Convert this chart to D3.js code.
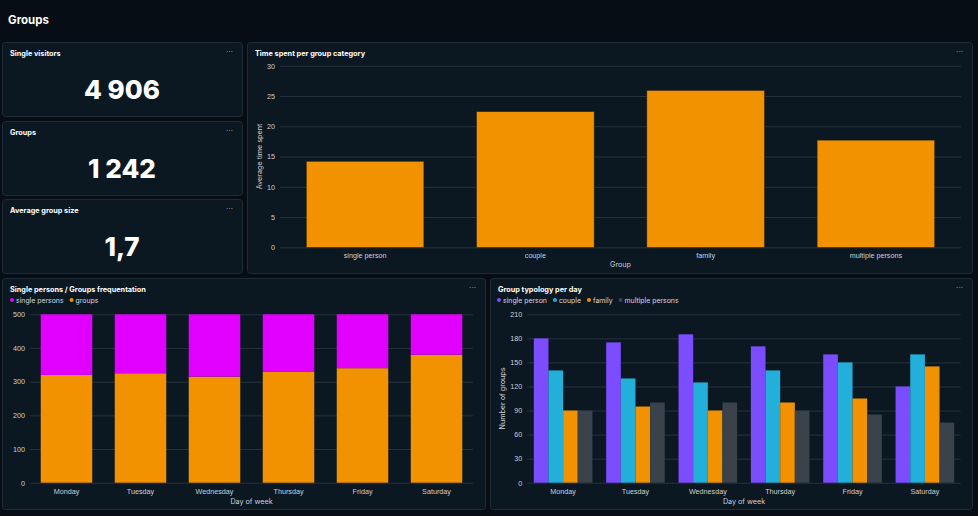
<!DOCTYPE html>
<html>
<head>
<meta charset="utf-8">
<script src="https://cdn.jsdelivr.net/npm/d3@7"></script>
<style>
  html, body { margin: 0; padding: 0; background: #070d15; }
  svg { display: block; font-family: Inter, "Open Sans", sans-serif; }
  .tick text { fill: #cdd2d7; font-size: 7.2px; }
  .axis-label { fill: #cdd2d7; font-size: 7.2px; }
  .panel-title { fill: #ffffff; font-size: 7.3px; font-weight: 700; }
  .dots { fill: #8a949e; font-size: 8px; }
  .legend text { fill: #d6dbe0; font-size: 6.9px; }
</style>
</head>
<body>
<svg id="dash" width="978" height="516"></svg>
<script>
// KPI tiles
const kpiTitles = ['Single visitors', 'Groups', 'Average group size']
const kpiValues = ['4 906', '1 242', '1,7']

// Time spent per group category
const groupCats = ['single person', 'couple', 'family', 'multiple persons']
const timeSpent = [14.2, 22.4, 25.9, 17.7]
const timeTicks = [0, 5, 10, 15, 20, 25, 30]

// Frequentation per day (stacked)
const days = ['Monday', 'Tuesday', 'Wednesday', 'Thursday', 'Friday', 'Saturday']
const freqSeries = ['single persons', 'groups']
const singleVisits = [180, 175, 185, 170, 160, 120]
const groupVisits = [320, 325, 315, 330, 340, 380]
const freqTicks = [0, 100, 200, 300, 400, 500]

// Group typology per day
const typoSeries = ['single person', 'couple', 'family', 'multiple persons']
const typoSingle = [180, 175, 185, 170, 160, 120]
const typoCouple = [140, 130, 125, 140, 150, 160]
const typoFamily = [90, 95, 90, 100, 105, 145]
const typoMultiple = [90, 100, 100, 90, 85, 75]
const typoTicks = [0, 30, 60, 90, 120, 150, 180, 210]

const ORANGE = '#f39200'
const MAGENTA = '#e100ff'
const PURPLE = '#7c4dff'
const CYAN = '#22b0da'
const GREY = '#3a424c'
const GRID = '#26333e'

const svg = d3.select('#dash')

svg.append('text')
    .attr('x', 8).attr('y', 24)
    .attr('fill', '#fff')
    .attr('font-size', 11.5)
    .attr('font-weight', 700)
    .text('Groups')

function panel(x, y, w, h, title) {
    const g = svg.append('g').attr('transform', `translate(${x}, ${y})`)
    g.append('rect')
        .attr('x', 0.5).attr('y', 0.5)
        .attr('width', w - 1).attr('height', h - 1)
        .attr('rx', 3)
        .attr('fill', '#0b1721')
        .attr('stroke', '#1f2b35')
    g.append('text')
        .attr('class', 'panel-title')
        .attr('x', 8).attr('y', 13.5)
        .text(title)
    g.append('text')
        .attr('class', 'dots')
        .attr('x', w - 10).attr('y', 12)
        .attr('text-anchor', 'end')
        .text('···')
    return g
}

// KPI tiles
const kpiY = [42, 121, 199]
kpiTitles.forEach((t, i) => {
    const g = panel(2, kpiY[i], 241, 75, t)
    g.append('text')
        .attr('x', 120).attr('y', 57)
        .attr('text-anchor', 'middle')
        .attr('fill', '#fff')
        .attr('font-size', 26)
        .attr('font-weight', 800)
        .text(kpiValues[i])
})

function yGrid(g, scale, ticks, x0, x1) {
    const axis = d3.axisLeft(scale).tickValues(ticks).tickSize(-(x1 - x0)).tickPadding(5)
    const ag = g.append('g')
        .attr('transform', `translate(${x0}, 0)`)
        .call(axis)
    ag.select('.domain').remove()
    ag.selectAll('.tick line').attr('stroke', GRID)
    return ag
}

function xAxis(g, scale, y) {
    const ag = g.append('g')
        .attr('transform', `translate(0, ${y})`)
        .call(d3.axisBottom(scale).tickSize(0).tickPadding(6))
    ag.select('.domain').remove()
    return ag
}

// legend items laid out one after the other, spacing taken from the text width
function legend(g, items, colors, x, y) {
    const lg = g.append('g').attr('class', 'legend')
    let cx = x
    items.forEach((d, i) => {
        lg.append('circle').attr('cx', cx).attr('cy', y).attr('r', 2).attr('fill', colors[i])
        const t = lg.append('text').attr('x', cx + 4).attr('y', y + 2.5).text(d)
        cx += 4 + t.node().getComputedTextLength() + 8
    })
}

// Time spent per group category
{
    const px = 247, py = 42
    const g = panel(px, py, 726, 232, 'Time spent per group category')
    const x0 = 280 - px, x1 = 961 - px
    const y = d3.scaleLinear().domain([0, 30]).range([205.3, 23.7])
    const x = d3.scaleBand().domain(groupCats).range([x0, x1]).paddingInner(0.31).paddingOuter(0.155)
    yGrid(g, y, timeTicks, x0, x1)
    g.selectAll('.bar')
        .data(timeSpent)
        .join('rect')
            .attr('class', 'bar')
            .attr('x', (d, i) => x(groupCats[i]))
            .attr('y', d => y(d))
            .attr('width', x.bandwidth())
            .attr('height', d => y(0) - y(d))
            .attr('fill', ORANGE)
            .attr('stroke', '#3a2a10')
            .attr('stroke-width', 0.5)
    xAxis(g, x, y(0))
    g.append('text').attr('class', 'axis-label')
        .attr('x', (x0 + x1) / 2).attr('y', 225)
        .attr('text-anchor', 'middle')
        .text('Group')
    g.append('text').attr('class', 'axis-label')
        .attr('transform', `translate(15, ${(y(0) + y(30)) / 2}) rotate(-90)`)
        .attr('text-anchor', 'middle')
        .text('Average time spent')
}

// Single persons / Groups frequentation
{
    const px = 2, py = 278
    const g = panel(px, py, 484, 232, 'Single persons / Groups frequentation')
    legend(g, freqSeries, [MAGENTA, ORANGE], 10, 22)
    const x0 = 30 - px, x1 = 473 - px
    const y = d3.scaleLinear().domain([0, 500]).range([204.7, 36.3])
    const x = d3.scaleBand().domain(days).range([x0, x1]).paddingInner(0.304).paddingOuter(0.145)
    yGrid(g, y, freqTicks, x0, x1)
    const rows = days.map((d, i) => ({ day: d, 'groups': groupVisits[i], 'single persons': singleVisits[i] }))
    const stack = d3.stack().keys(['groups', 'single persons'])(rows)
    const color = d3.scaleOrdinal().domain(['groups', 'single persons']).range([ORANGE, MAGENTA])
    g.selectAll('.layer')
        .data(stack)
        .join('g')
            .attr('class', 'layer')
            .attr('fill', d => color(d.key))
        .selectAll('rect')
        .data(d => d)
        .join('rect')
            .attr('x', d => x(d.data.day))
            .attr('y', d => y(d[1]))
            .attr('width', x.bandwidth())
            .attr('height', d => y(d[0]) - y(d[1]))
    xAxis(g, x, y(0))
    g.append('text').attr('class', 'axis-label')
        .attr('x', (x0 + x1) / 2).attr('y', 226)
        .attr('text-anchor', 'middle')
        .text('Day of week')
}

// Group typology per day
{
    const px = 490, py = 278
    const g = panel(px, py, 483, 232, 'Group typology per day')
    legend(g, typoSeries, [PURPLE, CYAN, ORANGE, GREY], 9, 22)
    const x0 = 527.3 - px, x1 = 960.7 - px
    const y = d3.scaleLinear().domain([0, 210]).range([204.7, 36.3])
    const x = d3.scaleBand().domain(days).range([x0, x1]).paddingInner(0.19).paddingOuter(0.09)
    const xs = d3.scaleBand().domain(typoSeries).range([0, x.bandwidth()])
    const color = d3.scaleOrdinal().domain(typoSeries).range([PURPLE, CYAN, ORANGE, GREY])
    yGrid(g, y, typoTicks, x0, x1)
    const vals = [typoSingle, typoCouple, typoFamily, typoMultiple]
    const rows = days.map((d, i) => ({ day: d, values: typoSeries.map((s, j) => ({ key: s, value: vals[j][i] })) }))
    g.selectAll('.day')
        .data(rows)
        .join('g')
            .attr('class', 'day')
            .attr('transform', d => `translate(${x(d.day)}, 0)`)
        .selectAll('rect')
        .data(d => d.values)
        .join('rect')
            .attr('x', d => xs(d.key))
            .attr('y', d => y(d.value))
            .attr('width', xs.bandwidth())
            .attr('height', d => y(0) - y(d.value))
            .attr('fill', d => color(d.key))
    xAxis(g, x, y(0))
    g.append('text').attr('class', 'axis-label')
        .attr('x', (x0 + x1) / 2).attr('y', 226)
        .attr('text-anchor', 'middle')
        .text('Day of week')
    g.append('text').attr('class', 'axis-label')
        .attr('transform', `translate(15, ${(y(0) + y(210)) / 2}) rotate(-90)`)
        .attr('text-anchor', 'middle')
        .text('Number of groups')
}
</script>
</body>
</html>
